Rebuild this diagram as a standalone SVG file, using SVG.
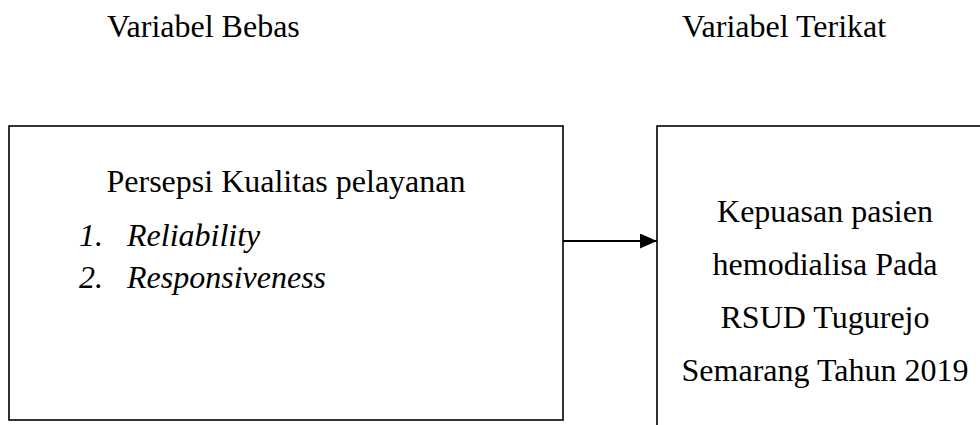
<svg xmlns="http://www.w3.org/2000/svg" width="980" height="425" viewBox="0 0 980 425">
<style>
text{font-family:'Liberation Serif',Tinos,'Times New Roman',Times,serif;font-size:32px;fill:#000}
.it{font-style:italic}
.box{fill:#fff;stroke:#000;stroke-width:1.6}
.c{text-anchor:middle}
</style>
<defs>
<marker id="ah" markerWidth="17" markerHeight="15" refX="17" refY="7.5" orient="auto" markerUnits="userSpaceOnUse">
<path d="M0,0 L17,7.5 L0,15 Z" fill="#000"/>
</marker>
</defs>
<rect width="980" height="425" fill="#fff"/>
<g id="label-bebas"><text x="107" y="37">Variabel Bebas</text></g>
<g id="label-terikat"><text x="682" y="37">Variabel Terikat</text></g>
<g id="node-bebas">
<rect class="box" x="9" y="126" width="554" height="294"/>
<text class="c" x="286" y="192">Persepsi Kualitas pelayanan</text>
<text class="it" x="79" y="246">1.</text>
<text class="it" x="127" y="246">Reliability</text>
<text class="it" x="79" y="288">2.</text>
<text class="it" x="127" y="288">Responsiveness</text>
</g>
<g id="node-terikat">
<rect class="box" x="657" y="126" width="340" height="320"/>
<text class="c" x="825" y="222">Kepuasan pasien</text>
<text class="c" x="825" y="275">hemodialisa Pada</text>
<text class="c" x="825" y="328">RSUD Tugurejo</text>
<text class="c" x="825" y="381">Semarang Tahun 2019</text>
</g>
<g id="connectors">
<line x1="563" y1="241" x2="657" y2="241" stroke="#000" stroke-width="2" marker-end="url(#ah)"/>
</g>
</svg>
